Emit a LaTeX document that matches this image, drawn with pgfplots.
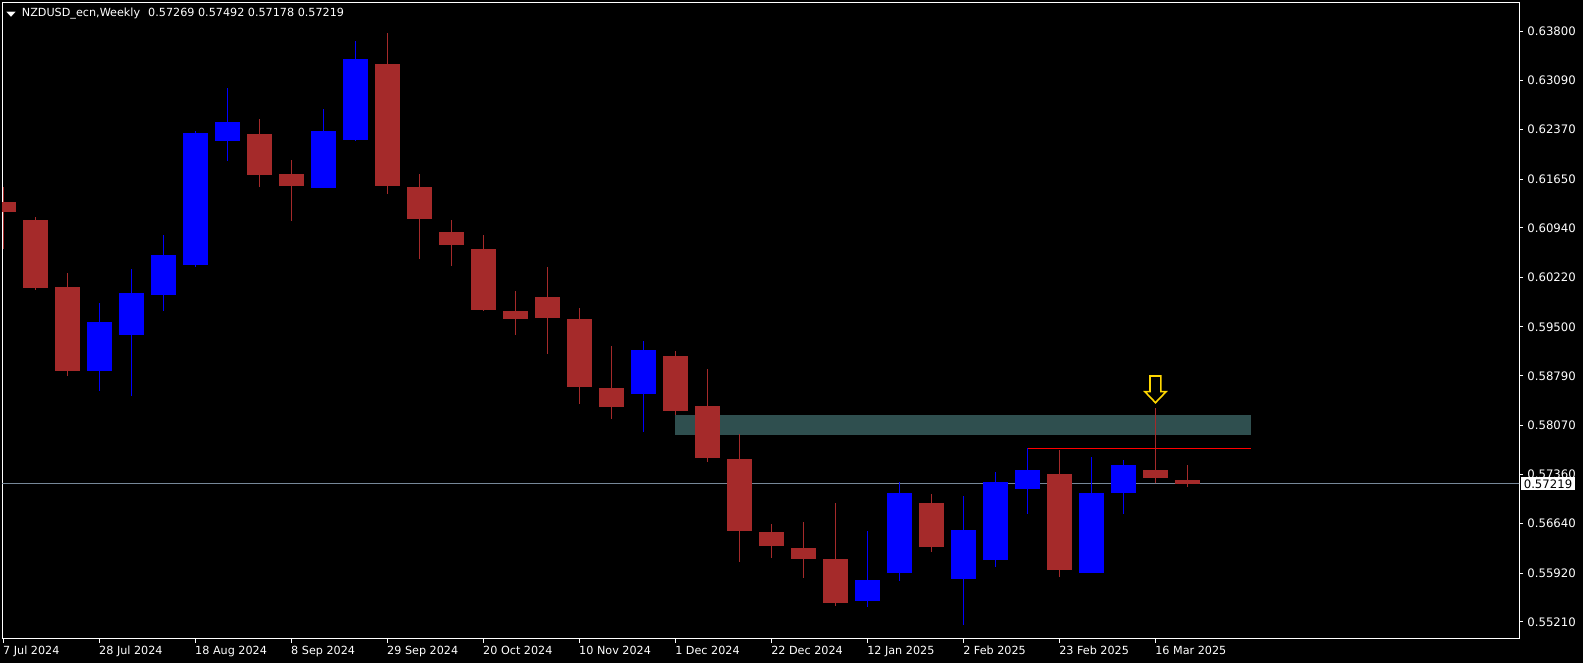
\documentclass[border=0pt]{standalone}
\usepackage{fontspec}
\setmainfont{DejaVu Sans}
\usepackage{pgfplots}
\usepackage{pgfplotstable}
\pgfplotsset{compat=1.18}
\usetikzlibrary{backgrounds}

\definecolor{bearred}{RGB}{165,42,42}
\definecolor{bullblue}{RGB}{0,0,255}
\definecolor{zone}{RGB}{47,79,79}
\definecolor{pricegray}{RGB}{119,136,153}
\definecolor{arrowyellow}{RGB}{255,215,0}

% weekly candles: index, open, high, low, close
\pgfplotstableread{
x  o       h       l       c
0  0.61317 0.61531 0.60634 0.61176
1  0.61055 0.61095 0.60042 0.60071
2  0.60081 0.60284 0.58791 0.58863
8  0.62306 0.62524 0.61540 0.61714
9  0.61724 0.61928 0.61045 0.61554
12 0.63324 0.63780 0.61438 0.61554
13 0.61535 0.61724 0.60492 0.61074
14 0.60881 0.61055 0.60391 0.60696
15 0.60634 0.60837 0.59732 0.59751
16 0.59732 0.60023 0.59387 0.59620
17 0.59935 0.60372 0.59111 0.59634
18 0.59615 0.59775 0.58383 0.58631
19 0.58612 0.59223 0.58165 0.58340
21 0.59077 0.59150 0.58219 0.58282
22 0.58350 0.58888 0.57540 0.57598
23 0.57579 0.57943 0.56085 0.56532
24 0.56517 0.56634 0.56144 0.56318
25 0.56285 0.56663 0.55853 0.56125
26 0.56125 0.56939 0.55445 0.55485
29 0.56939 0.57070 0.56231 0.56299
33 0.57361 0.57710 0.55867 0.55965
36 0.57419 0.58321 0.57226 0.57303
37 0.57269 0.57492 0.57178 0.57219
}\beartab

\pgfplotstableread{
x  o       h       l       c
3  0.58863 0.59848 0.58573 0.59572
4  0.59387 0.60343 0.58500 0.59994
5  0.59964 0.60837 0.59732 0.60546
6  0.60401 0.62350 0.60376 0.62321
7  0.62209 0.62975 0.61914 0.62481
10 0.61525 0.62670 0.61525 0.62350
11 0.62223 0.63659 0.62204 0.63397
20 0.58529 0.59295 0.57976 0.59165
27 0.55514 0.56532 0.55431 0.55819
28 0.55921 0.57245 0.55809 0.57085
30 0.55834 0.57041 0.55165 0.56546
31 0.56114 0.57390 0.56013 0.57245
32 0.57143 0.57739 0.56779 0.57419
34 0.55921 0.57608 0.55921 0.57085
35 0.57085 0.57565 0.56779 0.57492
}\bulltab

\begin{document}
\begin{tikzpicture}[font=\fontsize{5.85pt}{7pt}\selectfont]
\begin{axis}[
    at={(0,0)}, anchor=south west,
    scale only axis,
    width=758.5pt, height=318.25pt,
    xmin=-0.044, xmax=47.36,
    ymin=0.54961, ymax=0.64219,
    axis line style={draw=white, line width=0.5pt},
    tick style={draw=white, line width=0.5pt},
    tick align=outside,
    major tick length=2pt,
    xtick pos=bottom, ytick pos=right,
    yticklabel pos=right,
    scaled y ticks=false,
    xtick={0,3,...,36},
    xticklabels={7 Jul 2024, 28 Jul 2024, 18 Aug 2024, 8 Sep 2024, 29 Sep 2024, 20 Oct 2024, 10 Nov 2024, 1 Dec 2024, 22 Dec 2024, 12 Jan 2025, 2 Feb 2025, 23 Feb 2025, 16 Mar 2025},
    ytick={0.5521,0.5592,0.5664,0.5736,0.5807,0.5879,0.5950,0.6022,0.6094,0.6165,0.6237,0.6309,0.6380},
    yticklabels={0.55210,0.55920,0.56640,0.57360,0.58070,0.58790,0.59500,0.60220,0.60940,0.61650,0.62370,0.63090,0.63800},
    x tick label style={text=white, anchor=north west, inner sep=0pt, xshift=-0.3pt, yshift=-1.4pt,
        font=\fontsize{5.6pt}{7pt}\selectfont},
    y tick label style={text=white, anchor=west, inner sep=0pt, xshift=2pt},
]
% resistance zone and levels
\addplot[fill=zone, draw=none] coordinates {(21,0.57933) (39,0.57933) (39,0.58219) (21,0.58219)} --cycle;
\addplot[draw=pricegray, line width=0.5pt] coordinates {(-1,0.57219) (48,0.57219)};
\addplot[draw=red, line width=0.5pt] coordinates {(32,0.57735) (39,0.57735)};

% wicks
\addplot[draw=none, mark=none, error bars/.cd, y dir=plus, y explicit, error mark=none,
    error bar style={draw=bearred, line width=0.5pt}]
    table[x=x, y=l, y error expr=\thisrow{h}-\thisrow{l}] {\beartab};
\addplot[draw=none, mark=none, error bars/.cd, y dir=plus, y explicit, error mark=none,
    error bar style={draw=bullblue, line width=0.5pt}]
    table[x=x, y=l, y error expr=\thisrow{h}-\thisrow{l}] {\bulltab};
% bodies
\addplot[draw=none, mark=none, error bars/.cd, y dir=plus, y explicit, error mark=none,
    error bar style={draw=bearred, line width=12.5pt}]
    table[x=x, y=c, y error expr=\thisrow{o}-\thisrow{c}] {\beartab};
\addplot[draw=none, mark=none, error bars/.cd, y dir=plus, y explicit, error mark=none,
    error bar style={draw=bullblue, line width=12.5pt}]
    table[x=x, y=o, y error expr=\thisrow{c}-\thisrow{o}] {\bulltab};

% down arrow signal
\addplot[draw=arrowyellow, line width=0.8pt, fill=black] coordinates {
    (35.83,0.58786) (36.17,0.58786) (36.17,0.58558) (36.33,0.58558)
    (36,0.58398) (35.67,0.58558) (35.83,0.58558)} --cycle;

\coordinate (pricetag) at (axis cs:47.36,0.57219);
\end{axis}

\node[anchor=north west, inner sep=0pt, text=white, font=\fontsize{5.6pt}{7pt}\selectfont]
    at ([xshift=2pt, yshift=-2.6pt]current axis.north west)
    {\scalebox{1.1}[0.6]{▼}\hspace{3pt}NZDUSD\_ecn,Weekly\hspace{4pt}0.57269 0.57492 0.57178 0.57219};
\node[anchor=west, fill=white, text=black, inner xsep=1.2pt, inner ysep=0pt,
    minimum height=6.5pt] at ([xshift=1pt]pricetag) {0.57219};

\begin{scope}[on background layer]
\fill[black] (-1pt,-12pt) rectangle (790.5pt,319.5pt);
\end{scope}
\pgfresetboundingbox
\path[use as bounding box] (-1pt,-12pt) rectangle (790.5pt,319.5pt);
\end{tikzpicture}
\end{document}
